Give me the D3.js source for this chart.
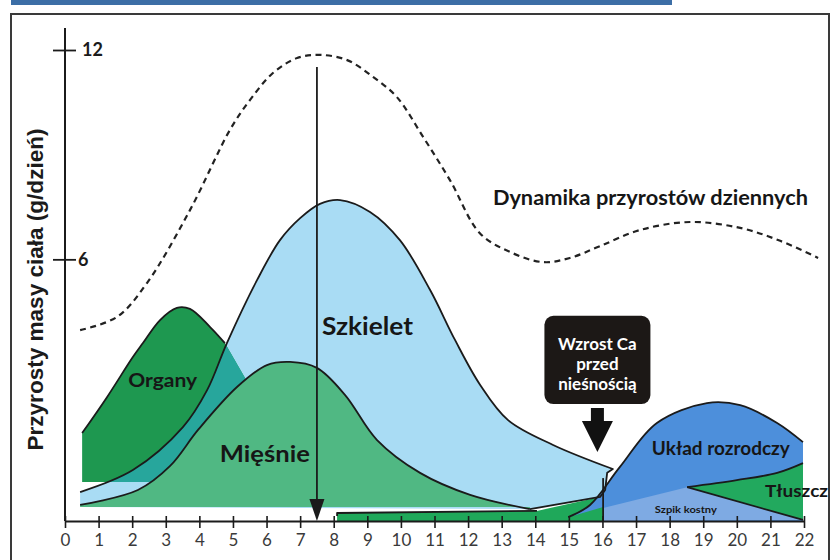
<!DOCTYPE html>
<html>
<head>
<meta charset="utf-8">
<script src="https://cdn.jsdelivr.net/npm/d3@7"></script>
<style>
  html, body { margin: 0; padding: 0; background: #fff; }
  svg { display: block; }
</style>
</head>
<body>
<svg id="chart" width="835" height="560"></svg>
<script>
// ---- data (x = tygodnie, y = g/dzień) ----
var xTicks = [0,1,2,3,4,5,6,7,8,9,10,11,12,13,14,15,16,17,18,19,20,21,22];
var yTicks = [6, 12];

var dynamika = [[0.45,3.97],[1.55,4.35],[2.44,5.32],[3.72,7.41],[4.91,9.71],[5.51,10.57],
  [6.19,11.34],[6.91,11.77],[7.59,11.86],[8.40,11.71],[9.17,11.23],[9.88,10.65],[10.66,9.51],
  [11.46,8.27],[12.35,6.75],[13.25,6.21],[14.23,5.92],[15.03,6.04],[15.93,6.38],[17.12,6.84],
  [18.61,7.07],[20.1,6.9],[21.29,6.53],[22.42,6.04]];

var szkielet = [[0.45,-0.67],[2.02,-0.04],[3.51,1.19],[4.23,2.25],[4.82,3.60],[5.72,5.41],
  [6.40,6.55],[7.00,7.18],[7.59,7.59],[8.19,7.70],[9.08,7.36],[9.97,6.55],[10.87,5.12],
  [11.61,3.69],[12.36,2.40],[13.19,1.39],[14.53,0.68],[16.31,-0.01]];
var szkieletEdge = [[16.14,-0.12],[16.08,-0.61],[15.93,-0.81],[13.84,-1.16]];
var szkieletBase = [[0.45,-1.10]];

var organy = [[0.51,1.02],[1.25,2.05],[2.02,3.20],[2.32,3.60],[2.83,4.26],[3.33,4.61],
  [3.72,4.58],[4.32,4.06],[4.76,3.60]];
var organyEdge = [[5.36,2.60],[5.81,1.39],[5.81,-0.38],[0.51,-0.38]];

var miesnie = [[0.45,-1.04],[2.17,-0.61],[3.13,0.08],[3.96,1.11],[5.12,2.34],[6.01,2.97],
  [6.70,3.06],[7.50,2.89],[8.34,2.11],[9.29,0.82],[10.57,-0.12],[12.06,-0.75],[13.84,-1.16]];
var miesnieBase = [[13.84,-1.10],[0.45,-1.10]];

var tluszczWczesny = [[8.10,-1.50],[8.10,-1.27],[14.05,-1.21],[15.93,-0.81],[16.11,-0.61],[16.11,-1.50]];
var tluszczWczesnyTop = [[8.10,-1.36],[8.10,-1.27],[14.05,-1.21]];

var uklad = [[14.98,-1.39],[15.63,-1.04],[16.52,0.05],[17.62,1.31],[19.11,1.88],[20.10,1.82],
  [21.20,1.31],[21.97,0.76]];
var ukladBase = [[21.97,-1.50],[16.02,-1.50],[16.02,-1.10]];

var szpik = [[16.02,-1.50],[16.02,-1.13],[18.52,-0.53],[21.97,-1.47]];

var tluszczTop = [[18.52,-0.53],[20.00,-0.33],[21.20,-0.12],[21.97,0.16]];
var tluszczBase = [[21.97,-1.47]];

var wiek16 = [[16.02,-0.27],[16.02,-1.50]];
var strzalka = { x: 7.5, top: 11.51, bottom: -1.5 };
var ramka = { x: 15.85, top: 4.38, bottom: 1.85, tip: 0.48 };

var labels = [
  { t: "Szkielet", x: 7.65, y: 3.83, size: 24, w: 91 },
  { t: "Organy", x: 1.88, y: 2.34, size: 18, w: 69 },
  { t: "Mięśnie", x: 4.61, y: 0.19, size: 23, w: 90 },
  { t: "Układ rozrodczy", x: 17.47, y: 0.39, size: 18, w: 138 },
  { t: "Szpik kostny", x: 17.56, y: -1.27, size: 10, w: 62 },
  { t: "Tłuszcz", x: 20.84, y: -0.81, size: 17, w: 63 },
  { t: "Dynamika przyrostów dziennych", x: 12.74, y: 7.56, size: 20, w: 315 }
];

// ---- scales ----
var svg = d3.select("#chart");
var x = d3.scaleLinear().domain([0, 22]).range([65, 804]);
var y = d3.scaleLinear().domain([-1.5, 12]).range([521, 50]);

var smooth = d3.line().x(function (d) { return x(d[0]); }).y(function (d) { return y(d[1]); })
  .curve(d3.curveCatmullRom.alpha(0.5));
var straight = d3.line().x(function (d) { return x(d[0]); }).y(function (d) { return y(d[1]); });

function shape(curve, rest) {
  var s = smooth(curve);
  rest.forEach(function (d) { s += "L" + x(d[0]) + "," + y(d[1]); });
  return s + "Z";
}

var ink = "#1b1b1b";

// frame + top bar
svg.append("rect").attr("x", 11).attr("y", 0).attr("width", 661).attr("height", 5).attr("fill", "#3c6ea6");
svg.append("rect").attr("x", 11).attr("y", 14).attr("width", 818).attr("height", 560)
  .attr("fill", "#fff").attr("stroke", "#3a3a3a").attr("stroke-width", 2);

var defs = svg.append("defs");
defs.append("clipPath").attr("id", "clipSkel")
  .append("path").attr("d", shape(szkielet, szkieletEdge.concat(szkieletBase)));

// fills
svg.append("path").attr("d", shape(szkielet, szkieletEdge.concat(szkieletBase))).attr("fill", "#a9dcf4");
svg.append("path").attr("d", shape(organy, organyEdge)).attr("fill", "#1e9850");
svg.append("path").attr("d", shape(organy, organyEdge)).attr("fill", "#27a69c")
  .attr("clip-path", "url(#clipSkel)");
svg.append("path").attr("d", shape(miesnie, miesnieBase)).attr("fill", "#50b883");
svg.append("path").attr("d", straight(tluszczWczesny) + "Z").attr("fill", "#1fa85a");
svg.append("path").attr("d", shape(uklad, ukladBase)).attr("fill", "#4d8fdb");
svg.append("path").attr("d", straight(szpik) + "Z").attr("fill", "#7eaae3");
svg.append("path").attr("d", shape(tluszczTop, tluszczBase)).attr("fill", "#22a95e");

// outlines
var outl = svg.append("g").attr("fill", "none").attr("stroke", ink).attr("stroke-width", 1.8)
  .attr("stroke-linejoin", "round");
outl.append("path").attr("d", (function () {
  var s = smooth(szkielet);
  szkieletEdge.forEach(function (d) { s += "L" + x(d[0]) + "," + y(d[1]); });
  return s;
})());
outl.append("path").attr("d", smooth(organy));
outl.append("path").attr("d", smooth(miesnie));
outl.append("path").attr("d", straight(tluszczWczesnyTop));
outl.append("path").attr("d", smooth(uklad));
outl.append("path").attr("d", smooth(tluszczTop));
outl.append("path").attr("d", straight([tluszczTop[0], tluszczBase[0]]));
outl.append("path").attr("d", straight(wiek16));

// dashed curve
svg.append("path").attr("d", smooth(dynamika)).attr("fill", "none").attr("stroke", "#222")
  .attr("stroke-width", 2.2).attr("stroke-dasharray", "6,4.5");

// x axis
var xAxis = svg.append("g").attr("transform", "translate(0," + y(-1.5) + ")")
  .call(d3.axisBottom(x).tickValues(xTicks).tickSize(7).tickSizeOuter(0).tickPadding(6));
xAxis.select(".domain").attr("stroke", ink).attr("stroke-width", 2);
xAxis.selectAll(".tick line").attr("y1", -5).attr("stroke", ink).attr("stroke-width", 1.6);
xAxis.selectAll(".tick text").attr("font-family", "Lato, 'Open Sans', sans-serif")
  .attr("font-size", 17).attr("fill", "#3a3a3a");

// y axis
svg.append("line").attr("x1", x(0)).attr("x2", x(0)).attr("y1", y(12.63)).attr("y2", y(-1.5))
  .attr("stroke", ink).attr("stroke-width", 2);
var yAxis = svg.append("g").attr("transform", "translate(" + x(0) + ",0)")
  .call(d3.axisRight(y).tickValues(yTicks).tickSize(11).tickSizeOuter(0));
yAxis.select(".domain").remove();
yAxis.selectAll(".tick line").attr("x1", -12).attr("stroke", ink).attr("stroke-width", 1.8);
yAxis.selectAll(".tick text").attr("x", function (d) { return d === 12 ? 17 : 13; })
  .attr("font-family", "Lato, 'Open Sans', sans-serif").attr("font-weight", 700)
  .attr("font-size", 18).attr("fill", "#1b1b1b");

svg.append("text")
  .attr("transform", "translate(43," + ((y(12) + y(-1.5)) / 2 + 4) + ") rotate(-90)")
  .attr("text-anchor", "middle").attr("font-family", "'Liberation Sans', Arial, sans-serif")
  .attr("font-weight", 700).attr("font-size", 21.5).attr("fill", "#1b1b1b")
  .attr("textLength", 322).attr("lengthAdjust", "spacingAndGlyphs")
  .text("Przyrosty masy ciała (g/dzień)");

// vertical arrow
svg.append("line").attr("x1", x(strzalka.x)).attr("x2", x(strzalka.x))
  .attr("y1", y(strzalka.top)).attr("y2", y(strzalka.bottom) - 18)
  .attr("stroke", ink).attr("stroke-width", 1.8);
svg.append("path")
  .attr("d", "M" + (x(strzalka.x) - 7.5) + "," + (y(strzalka.bottom) - 22) +
    "L" + (x(strzalka.x) + 7.5) + "," + (y(strzalka.bottom) - 22) +
    "L" + x(strzalka.x) + "," + y(strzalka.bottom) + "Z")
  .attr("fill", ink);

// labels
svg.append("g").selectAll("text").data(labels).join("text")
  .attr("x", function (d) { return x(d.x); })
  .attr("y", function (d) { return y(d.y); })
  .attr("font-family", "Lato, 'Open Sans', sans-serif").attr("font-weight", 700)
  .attr("font-size", function (d) { return d.size; })
  .attr("textLength", function (d) { return d.w; }).attr("lengthAdjust", "spacingAndGlyphs")
  .attr("fill", "#161616")
  .text(function (d) { return d.t; });

// black box with arrow
var bx = x(ramka.x), bt = y(ramka.top), bb = y(ramka.bottom);
svg.append("rect").attr("x", bx - 53).attr("y", bt).attr("width", 106).attr("height", bb - bt)
  .attr("rx", 9).attr("fill", "#1c1816");
svg.append("text").attr("x", bx).attr("text-anchor", "middle")
  .attr("font-family", "Lato, 'Open Sans', sans-serif").attr("font-weight", 700)
  .attr("font-size", 17).attr("fill", "#fff")
  .selectAll("tspan").data(["Wzrost Ca", "przed", "nieśnością"]).join("tspan")
  .attr("x", bx).attr("y", function (d, i) { return bt + 34 + i * 20; })
  .text(function (d) { return d; });
var tip = y(ramka.tip);
svg.append("path")
  .attr("d", "M" + (bx - 6.5) + "," + (bb + 4) + "L" + (bx + 6.5) + "," + (bb + 4) +
    "L" + (bx + 6.5) + "," + (tip - 31) + "L" + (bx + 15.5) + "," + (tip - 31) +
    "L" + bx + "," + tip + "L" + (bx - 15.5) + "," + (tip - 31) +
    "L" + (bx - 6.5) + "," + (tip - 31) + "Z")
  .attr("fill", "#111");
</script>
</body>
</html>
